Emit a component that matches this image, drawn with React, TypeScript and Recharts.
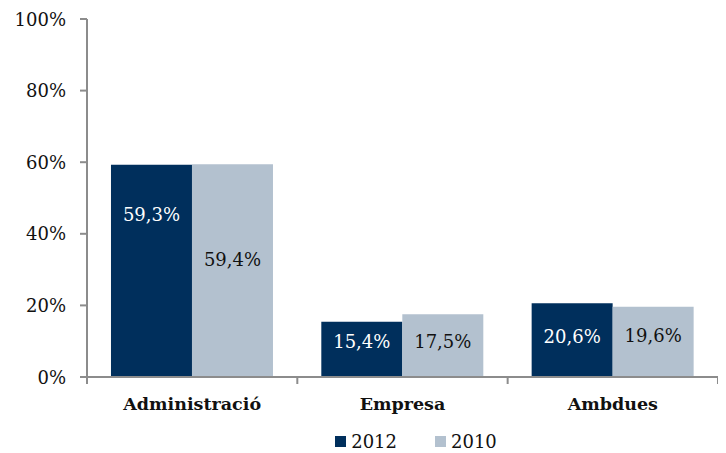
import { BarChart, Bar, XAxis, YAxis, Legend, LabelList } from 'recharts'

const categories = ['Administració', 'Empresa', 'Ambdues']
const values2012 = [59.3, 15.4, 20.6]
const values2010 = [59.4, 17.5, 19.6]
const yTicks = [0, 20, 40, 60, 80, 100]

const NAVY = '#002f5c'
const GREY_BLUE = '#b3c1cf'
const AXIS = '#8c8c8c'
const FONT = '"DejaVu Serif", Georgia, serif'

// nudges so the labels sit where the original placed them
const DY_2012 = [-56, -8, -4]
const DY_2010 = [-11, -4, -6]

const data = categories.map((name, i) => ({ name, y2012: values2012[i], y2010: values2010[i] }))

const fmt = (v: number) => v.toFixed(1).replace('.', ',') + '%'

function makeLabel(color: string, dys: number[]) {
  return (props: any) => {
    const { x, y, width, height, value, index } = props
    return (
      <text
        x={x + width / 2}
        y={y + height / 2 + dys[index]}
        fill={color}
        fontSize={18}
        fontFamily={FONT}
        textAnchor="middle"
        dominantBaseline="central"
      >
        {fmt(value)}
      </text>
    )
  }
}

function CategoryTick(props: any) {
  const { x, y, payload, index } = props
  const half = 210.3 / 2
  return (
    <g>
      {index === 0 && <line x1={x - half} x2={x - half} y1={y - 8} y2={y - 1} stroke={AXIS} strokeWidth={2} />}
      <line x1={x + half} x2={x + half} y1={y - 8} y2={y - 1} stroke={AXIS} strokeWidth={2} />
      <text x={x} y={y + 25} textAnchor="middle" fontSize={17.5} fontWeight="bold" fontFamily={FONT} fill="#111">
        {payload.value}
      </text>
    </g>
  )
}

function YTick(props: any) {
  const { x, y, payload } = props
  return (
    <text x={x - 12} y={y} textAnchor="end" dominantBaseline="central" fontSize={18} fontFamily={FONT} fill="#111">
      {`${payload.value}%`}
    </text>
  )
}

function LegendContent() {
  const items = [
    { label: '2012', color: NAVY },
    { label: '2010', color: GREY_BLUE },
  ]
  return (
    <div style={{ display: 'flex', justifyContent: 'center', gap: 38, fontFamily: FONT, fontSize: 18, color: '#111', paddingLeft: 106, paddingTop: 10 }}>
      {items.map(it => (
        <div key={it.label} style={{ display: 'flex', alignItems: 'center', gap: 5 }}>
          <span style={{ width: 11, height: 11, background: it.color, display: 'inline-block' }} />
          <span>{it.label}</span>
        </div>
      ))}
    </div>
  )
}

export default function App() {
  return (
    <BarChart
      width={712}
      height={445}
      data={data}
      margin={{ top: 11, right: 2, left: 0, bottom: 0 }}
      barCategoryGap="11.4%"
      barGap={0}
    >
      <XAxis
        dataKey="name"
        axisLine={{ stroke: AXIS, strokeWidth: 2 }}
        tickLine={false}
        tick={<CategoryTick />}
        height={44}
        interval={0}
      />
      <YAxis
        domain={[0, 100]}
        ticks={yTicks}
        axisLine={{ stroke: AXIS, strokeWidth: 2 }}
        tickLine={{ stroke: AXIS, strokeWidth: 2 }}
        tickSize={7}
        tick={<YTick />}
        width={79}
      />
      <Legend verticalAlign="bottom" height={32} content={<LegendContent />} />
      <Bar dataKey="y2012" fill={NAVY} isAnimationActive={false}>
        <LabelList dataKey="y2012" content={makeLabel('#ffffff', DY_2012)} />
      </Bar>
      <Bar dataKey="y2010" fill={GREY_BLUE} isAnimationActive={false}>
        <LabelList dataKey="y2010" content={makeLabel('#111111', DY_2010)} />
      </Bar>
    </BarChart>
  )
}
